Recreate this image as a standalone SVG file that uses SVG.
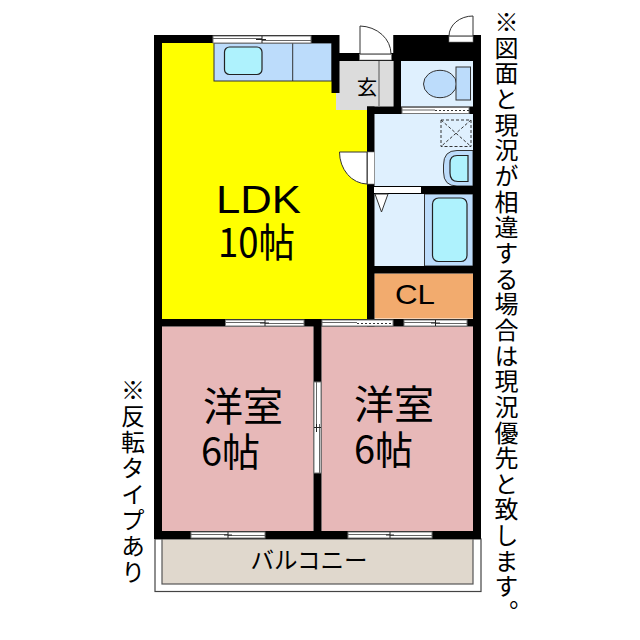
<svg xmlns="http://www.w3.org/2000/svg" width="640" height="640" viewBox="0 0 640 640">
<style>
text{font-family:"Noto Sans CJK JP","Liberation Sans",sans-serif;fill:#000}
.w{fill:#000}
.fx{fill:#bcdcfb;stroke:#333;stroke-width:1}
.in{fill:#aef2fd;stroke:#222;stroke-width:1.2}
.wet{fill:#dff0fe}
.pk{fill:#e7b8b8}
.win{fill:#fff;stroke:#777;stroke-width:1}
.gl{stroke:#666;stroke-width:1;fill:none}
.tick{stroke:#222;stroke-width:1;fill:none}
.dash{stroke:#333;stroke-width:1.2;stroke-dasharray:2 2;fill:none}
.lbl{font-family:"Liberation Sans",sans-serif}
.v{writing-mode:vertical-rl;font-size:24px}
</style>
<rect width="640" height="640" fill="#fff"/>
<g id="balcony"><rect x="155" y="539" width="326" height="52.500" fill="#fff" stroke="#444" stroke-width="1.200"/><rect x="162" y="539" width="311" height="45" fill="#e0d8cd" stroke="#555" stroke-width="1.200"/><text x="309" y="569" font-size="23.500" text-anchor="middle">バルコニー</text></g>
<g id="ldk"><polygon points="162,43 332,43 332,93 336,93 336,110 367,110 367,319 162,319" fill="#ff0"/><text class="lbl" x="216" y="213" font-size="38" textLength="85" lengthAdjust="spacingAndGlyphs">LDK</text><text x="218" y="257" font-size="40" textLength="77" lengthAdjust="spacingAndGlyphs">10帖</text></g>
<g id="kitchen"><rect class="fx" x="214" y="43" width="118" height="38"/><line x1="292.700" y1="43" x2="292.700" y2="81" stroke="#333"/><rect class="in" x="224.500" y="47" width="37.500" height="27.500" rx="5"/></g>
<g id="genkan"><polygon points="339,61 393,61 393,106.500 367,106.500 367,110 336,110 336,93 339,93" fill="#dcdcdc"/><line x1="379" y1="61" x2="379" y2="106" stroke="#555"/><text x="367" y="95" font-size="20.500" text-anchor="middle">玄</text></g>
<g id="toilet"><rect class="wet" x="401" y="61" width="72" height="45.500"/><ellipse class="fx" cx="440" cy="84" rx="16.500" ry="13.700"/><rect class="fx" x="456" y="67" width="14.500" height="33"/></g>
<g id="washroom"><rect class="wet" x="374.500" y="114" width="98.500" height="72"/><rect x="441" y="120" width="30" height="26.500" fill="none" stroke="#333" stroke-dasharray="3 2"/><path d="M441 120L471 146.500M471 120L441 146.500" fill="none" stroke="#333" stroke-dasharray="3 2"/><path class="fx" d="M473 150.500H457Q443.500 150.500 443.500 165V172Q443.500 186 457 186H473Z"/><path class="in" d="M468 155.500H457Q450 155.500 450 163V173Q450 181.500 458 181.500H468Z"/></g>
<g id="bath"><rect class="wet" x="374.500" y="194" width="50" height="72"/><rect class="fx" x="424.500" y="194" width="48.500" height="72"/><rect class="in" x="432.500" y="198" width="34.500" height="63.500" rx="6"/></g>
<g id="cl"><rect x="374.500" y="273.500" width="98.500" height="45" fill="#f2ab6e"/><text class="lbl" x="395" y="304" font-size="28" textLength="40" lengthAdjust="spacingAndGlyphs">CL</text></g>
<g id="room1"><rect class="pk" x="162" y="326.500" width="151.500" height="204.500"/><text x="243" y="421" font-size="40" text-anchor="middle">洋室</text><text x="201" y="466" font-size="39" textLength="59" lengthAdjust="spacingAndGlyphs">6帖</text></g>
<g id="room2"><rect class="pk" x="321.500" y="326.500" width="151.500" height="204.500"/><text x="394" y="419" font-size="40" text-anchor="middle">洋室</text><text x="354" y="464" font-size="39" textLength="59" lengthAdjust="spacingAndGlyphs">6帖</text></g>
<g id="walls">
<rect class="w" x="154" y="35" width="8" height="504"/><rect class="w" x="473" y="35" width="8" height="504"/>
<rect class="w" x="154" y="35" width="185" height="8"/><rect class="w" x="331.500" y="35" width="8" height="58"/>
<rect class="w" x="339" y="53" width="55" height="8"/><rect class="w" x="393.500" y="35" width="87.500" height="26"/>
<rect class="w" x="393.500" y="35" width="7.500" height="79"/><rect class="w" x="367" y="106.500" width="114" height="7.500"/>
<rect class="w" x="367" y="106.500" width="7.500" height="220"/><rect class="w" x="367" y="186" width="114" height="8"/>
<rect class="w" x="367" y="266" width="114" height="7.500"/><rect class="w" x="154" y="319" width="327" height="7.500"/>
<rect class="w" x="313.500" y="319" width="8" height="220"/><rect class="w" x="154" y="531" width="327" height="8"/>
</g>
<g id="openings">
<rect class="win" x="213" y="36" width="98" height="7"/><path class="gl" d="M213 38.500H262M262 40.500H311" stroke-width="1.500"/><path class="tick" d="M256 39.500H266M262 36V43"/>
<rect class="win" x="402" y="107.500" width="67" height="6"/><path class="gl" d="M402 110H435"/><path class="dash" d="M435 110.500H469"/>
<rect x="359.500" y="54" width="32" height="6" fill="#fff" stroke="#777" stroke-width=".6"/><path d="M360 54V26A32 28 0 0 1 391 54Z" fill="#fff" stroke="#333"/>
<rect x="449" y="36" width="24" height="6" fill="#fff" stroke="#777" stroke-width=".6"/><path d="M473 36V16A24 20 0 0 0 449 36Z" fill="#fff" stroke="#333"/>
<rect x="367.500" y="152" width="7" height="32" fill="#fff" stroke="#777" stroke-width=".6"/><path d="M367 152H339.500A28 32 0 0 0 367 184Z" fill="#fff" stroke="#333"/>
<rect x="374" y="187" width="47" height="6" fill="#fff"/><path d="M375 194H388L381.500 212Z" fill="#fff" stroke="#333"/>
<rect class="win" x="225.500" y="320" width="78.500" height="6"/><path class="gl" d="M225.500 322.500H265M265 323.500H304"/><path class="tick" d="M260 323H269M265 320V326"/>
<rect class="win" x="322" y="320" width="71" height="6"/><path class="gl" d="M322 322.500H357"/><path class="dash" d="M357 323.500H393"/>
<rect class="win" x="404" y="320" width="63" height="6"/><path class="gl" d="M404 322.500H435.500M435.500 323.500H467"/><path class="tick" d="M431 323H440M435.500 320V326"/>
<rect class="win" x="191" y="532" width="74" height="6"/><path class="gl" d="M191 534.500H228M228 535.500H265"/><path class="tick" d="M224 535H232M228 532V538"/>
<rect class="win" x="348" y="532" width="84" height="6"/><path class="gl" d="M348 534.500H390M390 535.500H432"/><path class="tick" d="M386 535H394M390 532V538"/>
<rect class="win" x="314" y="382" width="7" height="91"/><path class="gl" d="M316.500 382V427M319.500 424V473"/><path class="tick" d="M314 427.500H321M316.500 424V432"/>
</g>
<g id="notes"><text class="v" x="506.500" y="10" letter-spacing="1.650">※図面と現況が相違する場合は現況優先と致します。</text><text class="v" x="133" y="378" letter-spacing="2">※反転タイプあり</text></g>
</svg>
